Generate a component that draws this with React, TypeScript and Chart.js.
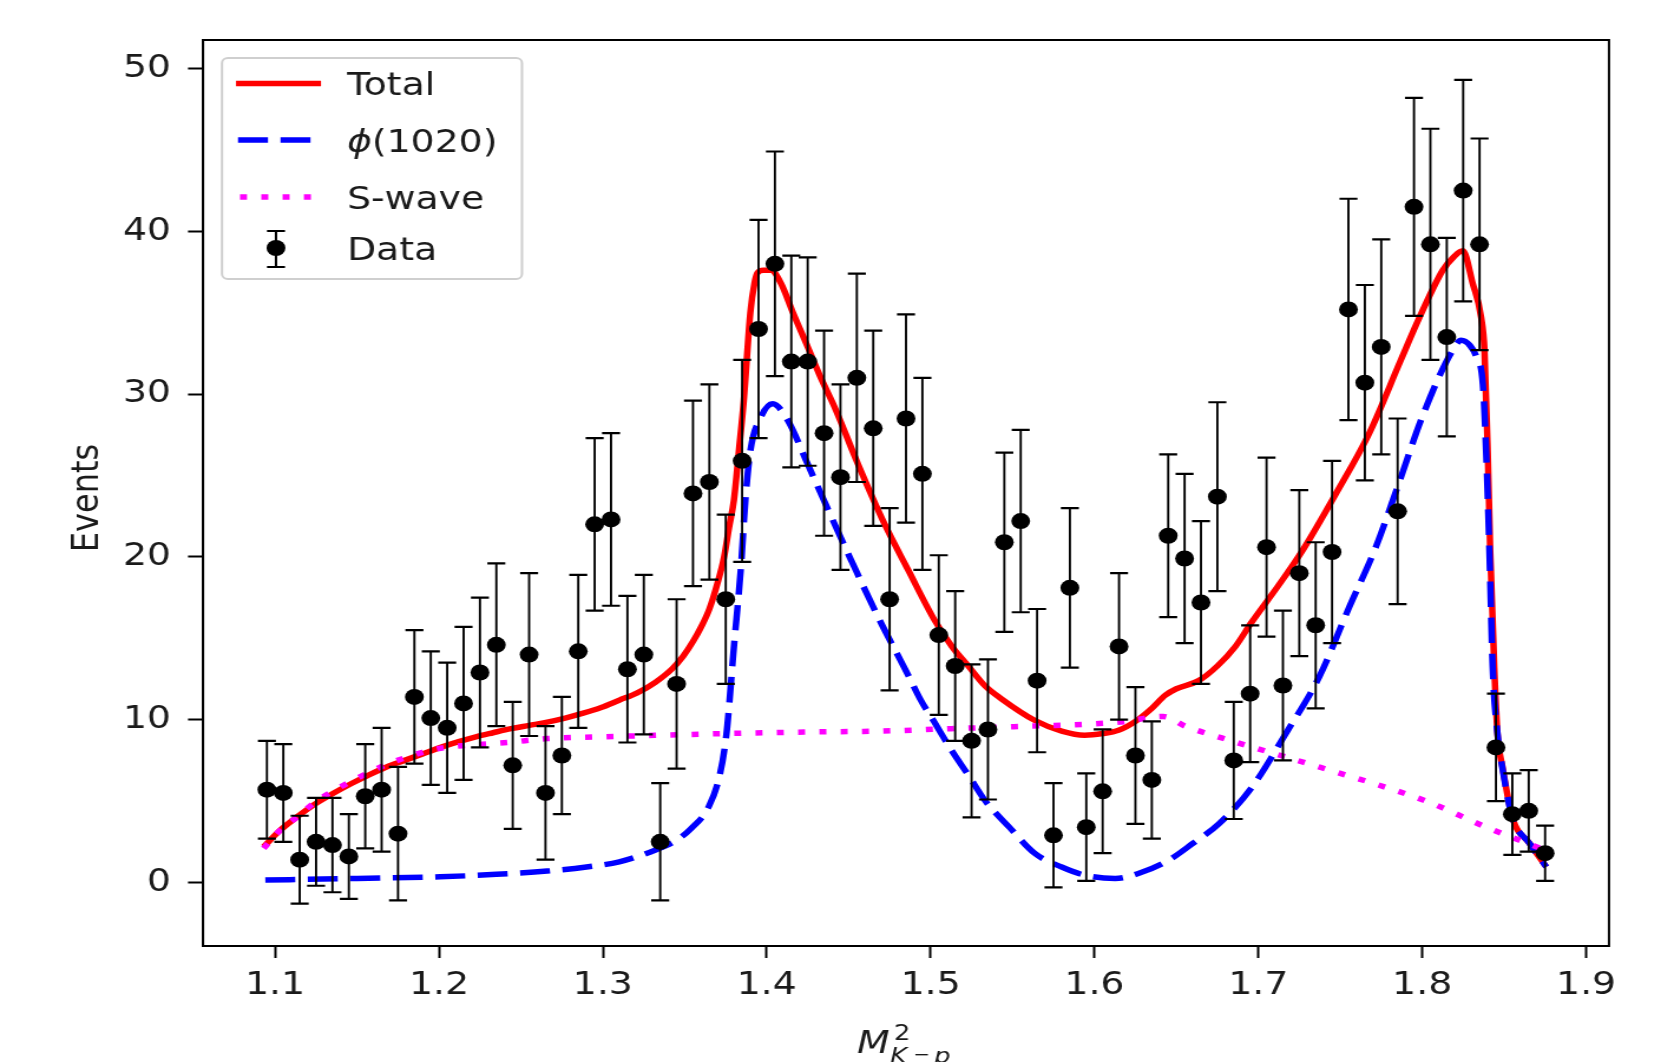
import React, { useEffect, useRef } from 'react';
import { Chart, registerables } from 'chart.js';

Chart.register(...registerables);

// ---------------- data ----------------
const binCenters = [
  1.095, 1.105, 1.115, 1.125, 1.135, 1.145, 1.155, 1.165, 1.175, 1.185,
  1.195, 1.205, 1.215, 1.225, 1.235, 1.245, 1.255, 1.265, 1.275, 1.285,
  1.295, 1.305, 1.315, 1.325, 1.335, 1.345, 1.355, 1.365, 1.375, 1.385,
  1.395, 1.405, 1.415, 1.425, 1.435, 1.445, 1.455, 1.465, 1.475, 1.485,
  1.495, 1.505, 1.515, 1.525, 1.535, 1.545, 1.555, 1.565, 1.575, 1.585,
  1.595, 1.605, 1.615, 1.625, 1.635, 1.645, 1.655, 1.665, 1.675, 1.685,
  1.695, 1.705, 1.715, 1.725, 1.735, 1.745, 1.755, 1.765, 1.775, 1.785,
  1.795, 1.805, 1.815, 1.825, 1.835, 1.845, 1.855, 1.865, 1.875,
];

const events = [
  5.7, 5.5, 1.4, 2.5, 2.3, 1.6, 5.3, 5.7, 3.0, 11.4,
  10.1, 9.5, 11.0, 12.9, 14.6, 7.2, 14.0, 5.5, 7.8, 14.2,
  22.0, 22.3, 13.1, 14.0, 2.5, 12.2, 23.9, 24.6, 17.4, 25.9,
  34.0, 38.0, 32.0, 32.0, 27.6, 24.9, 31.0, 27.9, 17.4, 28.5,
  25.1, 15.2, 13.3, 8.7, 9.4, 20.9, 22.2, 12.4, 2.9, 18.1,
  3.4, 5.6, 14.5, 7.8, 6.3, 21.3, 19.9, 17.2, 23.7, 7.5,
  11.6, 20.6, 12.1, 19.0, 15.8, 20.3, 35.2, 30.7, 32.9, 22.8,
  41.5, 39.2, 33.5, 42.5, 39.2, 8.3, 4.2, 4.4, 1.8,
];

const eventErrors = [
  3.0, 3.0, 2.7, 2.7, 2.9, 2.6, 3.2, 3.8, 4.1, 4.1,
  4.1, 4.0, 4.7, 4.6, 5.0, 3.9, 5.0, 4.1, 3.6, 4.7,
  5.3, 5.3, 4.5, 4.9, 3.6, 5.2, 5.7, 6.0, 5.2, 6.2,
  6.7, 6.9, 6.5, 6.4, 6.3, 5.7, 6.4, 6.0, 5.6, 6.4,
  5.9, 4.9, 4.6, 4.7, 4.3, 5.5, 5.6, 4.4, 3.2, 4.9,
  3.3, 3.8, 4.5, 4.2, 3.6, 5.0, 5.2, 5.0, 5.8, 3.6,
  4.2, 5.5, 4.6, 5.1, 5.1, 5.6, 6.8, 6.0, 6.6, 5.7,
  6.7, 7.1, 6.1, 6.8, 6.5, 3.3, 2.5, 2.5, 1.7,
];

const totalX = [
  1.093, 1.103, 1.113, 1.124, 1.135, 1.146, 1.157, 1.168, 1.179, 1.190,
  1.201, 1.212, 1.2225, 1.233, 1.244, 1.255, 1.266, 1.277, 1.288, 1.299,
  1.310, 1.321, 1.332, 1.342, 1.349, 1.355, 1.360, 1.365, 1.370, 1.374,
  1.377, 1.380, 1.383, 1.386, 1.390, 1.3925, 1.3944, 1.398, 1.4026, 1.4087,
  1.416, 1.425, 1.433, 1.4414, 1.4557, 1.472, 1.4863, 1.5025, 1.513, 1.523,
  1.533, 1.543, 1.5637, 1.580, 1.594, 1.605, 1.6147, 1.625, 1.635, 1.6432,
  1.650, 1.6636, 1.675, 1.686, 1.696, 1.712, 1.727, 1.748, 1.7677, 1.787,
  1.7983, 1.8125, 1.819, 1.8248, 1.8308, 1.836, 1.838, 1.840, 1.8415, 1.844,
  1.846, 1.849, 1.855, 1.8655, 1.8757,
];
const totalY = [
  2.2, 3.2, 4.0, 4.8, 5.45, 6.05, 6.6, 7.1, 7.5, 7.9,
  8.3, 8.65, 8.95, 9.2, 9.45, 9.65, 9.85, 10.1, 10.4, 10.75,
  11.2, 11.65, 12.3, 13.1, 13.9, 14.8, 15.7, 16.8, 18.4, 20.0,
  21.8, 23.5, 26.5, 29.6, 35.0, 36.8, 37.45, 37.6, 37.6, 36.8,
  35.0, 32.9, 31.0, 29.2, 25.7, 22.0, 19.2, 16.1, 14.5, 13.3,
  12.1, 11.3, 9.95, 9.3, 9.05, 9.15, 9.35, 9.9, 10.7, 11.5,
  11.9, 12.4, 13.3, 14.5, 16.0, 18.2, 20.4, 24.0, 27.6, 32.1,
  34.7, 37.6, 38.4, 38.8, 36.8, 34.7, 32.7, 26.5, 20.4, 13.2,
  9.1, 7.1, 4.0, 2.4, 0.96,
];

const phiX = [
  1.094, 1.150, 1.2007, 1.235, 1.266, 1.290, 1.310, 1.3318, 1.345, 1.3537,
  1.3646, 1.3711, 1.3754, 1.380, 1.3843, 1.387, 1.390, 1.3965, 1.4036, 1.4128,
  1.425, 1.437, 1.4515, 1.468, 1.486, 1.494, 1.502, 1.5127, 1.523, 1.533,
  1.548, 1.5637, 1.580, 1.594, 1.6126, 1.628, 1.6453, 1.660, 1.6759, 1.6962,
  1.7167, 1.737, 1.7554, 1.7717, 1.786, 1.800, 1.8186, 1.8237, 1.829, 1.833,
  1.837, 1.839, 1.841, 1.843, 1.846, 1.849, 1.855, 1.8655, 1.8757,
];
const phiY = [
  0.15, 0.25, 0.35, 0.5, 0.7, 0.95, 1.27, 1.98, 2.6, 3.3,
  4.65, 6.5, 9.1, 14.5, 19.4, 23.5, 26.5, 28.6, 29.4, 28.4,
  25.7, 23.0, 19.8, 16.3, 12.8, 11.2, 9.9, 8.13, 6.6, 5.06,
  3.4, 1.78, 0.95, 0.45, 0.25, 0.6, 1.37, 2.4, 3.6, 5.87,
  9.14, 12.6, 16.9, 20.6, 24.6, 28.6, 32.7, 33.3, 33.0, 32.3,
  30.6, 26.5, 20.4, 13.2, 9.1, 7.0, 4.0, 2.4, 0.96,
];

const swaveX = [
  1.093, 1.103, 1.113, 1.124, 1.135, 1.146, 1.157, 1.168, 1.179, 1.190,
  1.201, 1.216, 1.242, 1.266, 1.300, 1.3318, 1.380, 1.430, 1.470, 1.5127,
  1.560, 1.600, 1.620, 1.635, 1.642, 1.6555, 1.686, 1.7167, 1.737, 1.7574,
  1.7677, 1.804, 1.839, 1.8696, 1.876,
];
const swaveY = [
  2.1, 3.2, 4.0, 4.9, 5.6, 6.2, 6.75, 7.25, 7.65, 8.0,
  8.25, 8.42, 8.6, 8.84, 8.95, 9.04, 9.16, 9.25, 9.3, 9.45,
  9.6, 9.75, 9.9, 10.16, 10.2, 9.6, 8.63, 7.71, 7.1, 6.48,
  6.17, 4.94, 3.4, 2.2, 1.95,
];

const xTicks = [1.1, 1.2, 1.3, 1.4, 1.5, 1.6, 1.7, 1.8, 1.9];
const yTicks = [0, 10, 20, 30, 40, 50];
const legendLabels = ['Total', '(1020)', 'S-wave', 'Data'];
const yAxisLabel = 'Events';

// ---------------- styling / layout ----------------
const FONT = 'DejaVu Sans';
const TEXT_COLOR = '#1a1a1a';
const FONT_SIZE = 32;
const SCREEN_W = 1661;
const SCREEN_H = 1062;
const CANVAS_W = 1408; // drawn narrower, then stretched horizontally like the reference
const SX = SCREEN_W / CANVAS_W;
const hx = (v: number) => v / SX; // screen px -> canvas px (horizontal)

const errorBarPlugin = {
  id: 'errorBars',
  beforeDatasetDraw(chart: any, args: any) {
    if (args.index !== 0) return;
    const { ctx, chartArea } = chart;
    const xs = chart.scales.x;
    const ys = chart.scales.y;
    ctx.save();
    ctx.beginPath();
    ctx.rect(chartArea.left, chartArea.top, chartArea.right - chartArea.left, chartArea.bottom - chartArea.top);
    ctx.clip();
    ctx.strokeStyle = '#000';
    ctx.lineWidth = 1.9;
    const cap = hx(9);
    binCenters.forEach((xv, i) => {
      const px = xs.getPixelForValue(xv);
      const top = ys.getPixelForValue(events[i] + eventErrors[i]);
      const bot = ys.getPixelForValue(events[i] - eventErrors[i]);
      ctx.beginPath();
      ctx.moveTo(px, top);
      ctx.lineTo(px, bot);
      ctx.stroke();
      ctx.lineWidth = 2.2;
      ctx.beginPath();
      ctx.moveTo(px - cap, top);
      ctx.lineTo(px + cap, top);
      ctx.moveTo(px - cap, bot);
      ctx.lineTo(px + cap, bot);
      ctx.stroke();
      ctx.lineWidth = 1.9;
    });
    ctx.restore();
  },
};

const framePlugin = {
  id: 'frame',
  afterDraw(chart: any) {
    const { ctx, chartArea } = chart;
    ctx.save();
    ctx.strokeStyle = '#000';
    ctx.lineWidth = 2;
    ctx.strokeRect(chartArea.left, chartArea.top, chartArea.right - chartArea.left, chartArea.bottom - chartArea.top);
    ctx.restore();
  },
};

const legendPlugin = {
  id: 'customLegend',
  afterDraw(chart: any) {
    const { ctx, chartArea } = chart;
    const bx = chartArea.left + hx(19);
    const by = chartArea.top + 18;
    const bw = hx(300);
    const bh = 221;
    ctx.save();
    ctx.beginPath();
    (ctx as any).roundRect(bx, by, bw, bh, 5);
    ctx.fillStyle = 'rgba(255,255,255,0.85)';
    ctx.fill();
    ctx.strokeStyle = '#cfcfcf';
    ctx.lineWidth = 2;
    ctx.stroke();

    const lx0 = bx + hx(14);
    const lx1 = bx + hx(99);
    const rows = [by + 25.5, by + 82, by + 139, by + 190];
    ctx.lineWidth = 5.5;
    ctx.lineCap = 'butt';
    ctx.strokeStyle = '#ff0000';
    ctx.setLineDash([]);
    ctx.beginPath();
    ctx.moveTo(lx0, rows[0]);
    ctx.lineTo(lx1, rows[0]);
    ctx.stroke();
    ctx.strokeStyle = '#0000ff';
    ctx.setLineDash([hx(30), hx(12.5)]);
    ctx.beginPath();
    ctx.moveTo(lx0 + hx(2), rows[1]);
    ctx.lineTo(lx1, rows[1]);
    ctx.stroke();
    ctx.strokeStyle = '#ff00ff';
    ctx.setLineDash([hx(7), hx(14.3)]);
    ctx.beginPath();
    ctx.moveTo(lx0 + hx(4), rows[2]);
    ctx.lineTo(lx1, rows[2]);
    ctx.stroke();
    ctx.setLineDash([]);
    const mx = bx + hx(54);
    const mc = hx(9);
    ctx.strokeStyle = '#000';
    ctx.lineWidth = 2;
    ctx.beginPath();
    ctx.moveTo(mx, rows[3] - 17);
    ctx.lineTo(mx, rows[3] + 19);
    ctx.moveTo(mx - mc, rows[3] - 17);
    ctx.lineTo(mx + mc, rows[3] - 17);
    ctx.moveTo(mx - mc, rows[3] + 19);
    ctx.lineTo(mx + mc, rows[3] + 19);
    ctx.stroke();
    ctx.fillStyle = '#000';
    ctx.beginPath();
    ctx.arc(mx, rows[3], 8, 0, Math.PI * 2);
    ctx.fill();

    const tx = bx + hx(125);
    ctx.fillStyle = TEXT_COLOR;
    ctx.textBaseline = 'alphabetic';
    ctx.textAlign = 'left';
    ctx.font = `${FONT_SIZE}px "${FONT}"`;
    ctx.fillText(legendLabels[0], tx, rows[0] + 11.7);
    ctx.font = `italic ${FONT_SIZE}px "${FONT}"`;
    ctx.fillText('\u03D5', tx, rows[1] + 11.7);
    const phiW = ctx.measureText('\u03D5').width;
    ctx.font = `${FONT_SIZE}px "${FONT}"`;
    ctx.fillText(legendLabels[1], tx + phiW, rows[1] + 11.7);
    ctx.fillText(legendLabels[2], tx, rows[2] + 11.7);
    ctx.fillText(legendLabels[3], tx, rows[3] + 11.7);
    ctx.restore();
  },
};

const axisLabelPlugin = {
  id: 'axisLabels',
  afterDraw(chart: any) {
    const { ctx, chartArea } = chart;
    // y label
    ctx.save();
    ctx.fillStyle = TEXT_COLOR;
    ctx.font = `${FONT_SIZE}px "${FONT}"`;
    ctx.textAlign = 'center';
    ctx.textBaseline = 'middle';
    ctx.translate(hx(88), 498);
    ctx.rotate(-Math.PI / 2);
    ctx.fillText(yAxisLabel, 0, 0);
    ctx.restore();

    // x label: M^2_{K^- p}
    const cx = (chartArea.left + chartArea.right) / 2;
    const x0 = cx - hx(49);
    const base = chartArea.bottom + 107;
    ctx.save();
    ctx.fillStyle = TEXT_COLOR;
    ctx.textBaseline = 'alphabetic';
    ctx.textAlign = 'left';
    ctx.font = `italic ${FONT_SIZE}px "${FONT}"`;
    ctx.fillText('M', x0, base);
    ctx.font = `22px "${FONT}"`;
    ctx.fillText('2', x0 + hx(37), base - 13);
    ctx.font = `italic 22px "${FONT}"`;
    ctx.fillText('K', x0 + hx(33), base + 10);
    ctx.font = `17px "${FONT}"`;
    ctx.fillText('\u2212', x0 + hx(56), base + 7);
    ctx.font = `italic 22px "${FONT}"`;
    ctx.fillText('p', x0 + hx(77), base + 10);
    ctx.restore();
  },
};

export default function App() {
  const canvasRef = useRef<HTMLCanvasElement | null>(null);

  useEffect(() => {
    if (!canvasRef.current) return;
    const tickFont = { family: FONT, size: FONT_SIZE };
    const dataPoints = binCenters.map((x, i) => ({ x, y: events[i] }));
    const totalPts = totalX.map((x, i) => ({ x, y: totalY[i] }));
    const phiPts = phiX.map((x, i) => ({ x, y: phiY[i] }));
    const swavePts = swaveX.map((x, i) => ({ x, y: swaveY[i] }));

    const chart = new Chart(canvasRef.current, {
      type: 'scatter',
      data: {
        datasets: [
          {
            label: 'Data',
            data: dataPoints,
            showLine: false,
            pointStyle: 'circle',
            pointRadius: 8,
            borderWidth: 0,
            backgroundColor: '#000',
            borderColor: '#000',
          },
          {
            label: 'S-wave',
            data: swavePts,
            showLine: true,
            borderColor: '#ff00ff',
            borderWidth: 5.5,
            borderDash: [hx(7), hx(14.3)],
            borderCapStyle: 'butt',
            pointRadius: 0,
            fill: false,
            cubicInterpolationMode: 'monotone',
          },
          {
            label: '\u03D5(1020)',
            data: phiPts,
            showLine: true,
            borderColor: '#0000ff',
            borderWidth: 5.5,
            borderDash: [hx(30), hx(12.5)],
            borderCapStyle: 'butt',
            pointRadius: 0,
            fill: false,
            cubicInterpolationMode: 'monotone',
          },
          {
            label: 'Total',
            data: totalPts,
            showLine: true,
            borderColor: '#ff0000',
            borderWidth: 5.5,
            pointRadius: 0,
            fill: false,
            cubicInterpolationMode: 'monotone',
          },
        ],
      } as any,
      options: {
        animation: false,
        responsive: false,
        devicePixelRatio: 1,
        events: [],
        layout: { padding: { top: 40, right: CANVAS_W - hx(1609), bottom: 0, left: 0 } },
        plugins: {
          legend: { display: false },
          tooltip: { enabled: false },
        },
        scales: {
          x: {
            type: 'linear',
            min: 1.056,
            max: 1.914,
            afterFit: (s: any) => {
              s.height = SCREEN_H - 946;
            },
            afterBuildTicks: (s: any) => {
              s.ticks = xTicks.map((v) => ({ value: v }));
            },
            ticks: {
              font: tickFont,
              color: TEXT_COLOR,
              padding: 8,
              maxRotation: 0,
              autoSkip: false,
              callback: (v: any) => Number(v).toFixed(1),
            },
            grid: {
              drawOnChartArea: false,
              drawTicks: true,
              tickLength: 12,
              tickWidth: 2,
              tickColor: '#000',
            },
            border: { display: true, color: '#000', width: 2 },
          },
          y: {
            type: 'linear',
            min: -3.9,
            max: 51.75,
            afterFit: (s: any) => {
              s.width = hx(203);
            },
            afterBuildTicks: (s: any) => {
              s.ticks = yTicks.map((v) => ({ value: v }));
            },
            ticks: {
              font: tickFont,
              color: TEXT_COLOR,
              padding: hx(17),
              autoSkip: false,
              callback: (v: any) => String(v),
            },
            grid: {
              drawOnChartArea: false,
              drawTicks: true,
              tickLength: hx(15),
              tickWidth: 2,
              tickColor: '#000',
            },
            border: { display: true, color: '#000', width: 2 },
          },
        },
      } as any,
      plugins: [errorBarPlugin, framePlugin, legendPlugin, axisLabelPlugin],
    });
    return () => chart.destroy();
  }, []);

  return (
    <div style={{ position: 'absolute', left: 0, top: 0, width: SCREEN_W, height: SCREEN_H, background: '#fff' }}>
      <canvas
        ref={canvasRef}
        width={CANVAS_W}
        height={SCREEN_H}
        style={{ display: 'block', width: `${SCREEN_W}px`, height: `${SCREEN_H}px` }}
      />
    </div>
  );
}
